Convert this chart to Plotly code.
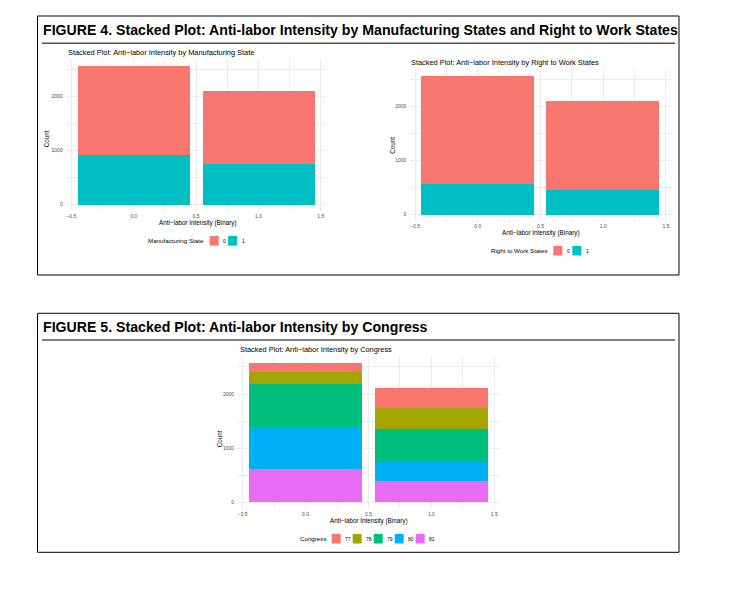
import plotly.graph_objects as go

# ---------------- data ----------------
intensity = [0, 1]                      # Anti-labor Intensity (Binary)
binary_levels = ["0", "1"]
manuf_0 = [1660, 1360]                  # Manufacturing State = 0
manuf_1 = [920, 750]                    # Manufacturing State = 1
rtw_0 = [2015, 1652]                    # Right to Work States = 0
rtw_1 = [565, 458]                      # Right to Work States = 1
congress_levels = ["77", "78", "79", "80", "81"]
cong_77 = [173, 370]
cong_78 = [222, 389]
cong_79 = [796, 611]
cong_80 = [772, 352]
cong_81 = [617, 389]
x_ticks = [-0.5, 0.0, 0.5, 1.0, 1.5]
x_tick_labels = ["\u22120.5", "0.0", "0.5", "1.0", "1.5"]
y_ticks = [0, 1000, 2000]
y_tick_labels = ["0", "1000", "2000"]

# ---------------- style ----------------
PAGE_W, PAGE_H = 742, 593
OFF = 8                      # default body margin of the html page
W, H = PAGE_W - 2 * OFF, PAGE_H - 2 * OFF
FONT = "Liberation Sans, Arial, Helvetica, sans-serif"
C2 = ["#F8766D", "#00BFC4"]
C5 = ["#F8766D", "#A3A500", "#00BF7D", "#00B0F6", "#E76BF3"]
GRID = "#EBEBEB"
TICKC = "#4D4D4D"


def fx(px):
    return (px - OFF) / W


def fy(py):
    return 1 - (py - OFF) / H


fig = go.Figure()
BAR_W = 0.9


def add_bar(xa, ya, name, y, color):
    fig.add_trace(go.Bar(
        x=intensity, y=y, width=BAR_W, name=name,
        marker=dict(color=color, line=dict(width=0)),
        xaxis=xa, yaxis=ya, showlegend=False,
    ))


# subplot 1: manufacturing (level 1 at bottom, level 0 on top)
manuf_series = [manuf_0, manuf_1]
for i in reversed(range(len(binary_levels))):
    add_bar("x", "y", binary_levels[i], manuf_series[i], C2[i])
# subplot 2: right to work
rtw_series = [rtw_0, rtw_1]
for i in reversed(range(len(binary_levels))):
    add_bar("x2", "y2", binary_levels[i], rtw_series[i], C2[i])
# subplot 3: congress (81 at bottom, 77 on top)
cong_series = [cong_77, cong_78, cong_79, cong_80, cong_81]
for i in reversed(range(len(congress_levels))):
    add_bar("x3", "y3", congress_levels[i], cong_series[i], C5[i])

XR = [-0.545, 1.545]
YR = [-129, 2709]


def xaxis(dom, anchor):
    return dict(domain=dom, range=XR, anchor=anchor, tickmode="array",
                tickvals=x_ticks, ticktext=x_tick_labels,
                showgrid=True, gridcolor=GRID, gridwidth=0.8, zeroline=False,
                showline=False, ticks="", ticklabelstandoff=1,
                tickfont=dict(size=5, color=TICKC, family=FONT),
                minor=dict(dtick=0.25, tick0=-0.5, showgrid=True,
                           gridcolor=GRID, gridwidth=0.5),
                fixedrange=True)


def yaxis(dom, anchor):
    return dict(domain=dom, range=YR, anchor=anchor, tickmode="array",
                tickvals=y_ticks, ticktext=y_tick_labels,
                showgrid=True, gridcolor=GRID, gridwidth=0.8, zeroline=False,
                showline=False, ticks="", ticklabelstandoff=2,
                tickfont=dict(size=5, color=TICKC, family=FONT),
                minor=dict(dtick=500, tick0=0, showgrid=True,
                           gridcolor=GRID, gridwidth=0.5),
                fixedrange=True)


# panel pixel extents (page pixels)
P1 = dict(x0=65.7, x1=326.3, y0=58.6, y1=211.2)
P2 = dict(x0=409.4, x1=671.6, y0=68.6, y1=221.2)
P3 = dict(x0=237.0, x1=500.0, y0=355.7, y1=509.0)

fig.update_layout(
    width=W, height=H, margin=dict(l=0, r=0, t=0, b=0),
    paper_bgcolor="white", plot_bgcolor="white",
    barmode="stack", bargap=0, showlegend=False,
    font=dict(family=FONT, color="black"),
    xaxis=xaxis([fx(P1["x0"]), fx(P1["x1"])], "y"),
    yaxis=yaxis([fy(P1["y1"]), fy(P1["y0"])], "x"),
    xaxis2=xaxis([fx(P2["x0"]), fx(P2["x1"])], "y2"),
    yaxis2=yaxis([fy(P2["y1"]), fy(P2["y0"])], "x2"),
    xaxis3=xaxis([fx(P3["x0"]), fx(P3["x1"])], "y3"),
    yaxis3=yaxis([fy(P3["y1"]), fy(P3["y0"])], "x3"),
)

# ---------------- frames and rules ----------------
shapes = []
for (y0, y1, ly) in [(16, 275, 43.3), (313.3, 552.3, 340)]:
    shapes.append(dict(type="rect", xref="paper", yref="paper",
                       x0=fx(37.5), x1=fx(679), y0=fy(y1), y1=fy(y0),
                       line=dict(color="black", width=1), fillcolor="rgba(0,0,0,0)",
                       layer="below"))
    shapes.append(dict(type="line", xref="paper", yref="paper",
                       x0=fx(42), x1=fx(675), y0=fy(ly), y1=fy(ly),
                       line=dict(color="#555555", width=1.5)))

# ---------------- text ----------------
ann = []


def text(s, x, y, size, xanchor="center", bold=False, angle=0, color="black", family=FONT):
    ann.append(dict(text=("<b>%s</b>" % s) if bold else s, x=fx(x), y=fy(y),
                    xref="paper", yref="paper", showarrow=False,
                    xanchor=xanchor, yanchor="middle", textangle=angle,
                    font=dict(size=size, color=color, family=family)))


text("FIGURE 4. Stacked Plot: Anti-labor Intensity by Manufacturing States and Right to Work States",
     40.5, 29.7, 14.15, xanchor="left", bold=True)
text("FIGURE 5. Stacked Plot: Anti-labor Intensity by Congress",
     40.5, 326.9, 14.15, xanchor="left", bold=True)

text("Stacked Plot: Anti\u2212labor Intensity by Manufacturing State", 66, 52.7, 7.4, xanchor="left")
text("Stacked Plot: Anti\u2212labor Intensity by Right to Work States", 409.5, 62.3, 7.4, xanchor="left")
text("Stacked Plot: Anti\u2212labor Intensity by Congress", 238, 349.3, 7.4, xanchor="left")

text("Anti\u2212labor Intensity (Binary)", 198, 223.3, 6.3)
text("Anti\u2212labor Intensity (Binary)", 541, 233.3, 6.3)
text("Anti\u2212labor Intensity (Binary)", 369, 521, 6.3)

text("Count", 47.3, 139, 6.3, angle=-90)
text("Count", 391.7, 145, 6.3, angle=-90)
text("Count", 219.3, 439, 6.3, angle=-90)


# ---------------- legends (keys built from the level lists) ----------------
def legend(title, levels, colors, x_start, y_mid, pitch, sw=9.0):
    text(title, x_start - 3.5, y_mid, 6.2, xanchor="right")
    for k, (lab, col) in enumerate(zip(levels, colors)):
        x0 = x_start + k * pitch
        shapes.append(dict(type="rect", xref="paper", yref="paper",
                           x0=fx(x0), x1=fx(x0 + sw),
                           y0=fy(y_mid + sw / 2 + 0.3), y1=fy(y_mid - sw / 2 - 0.3),
                           line=dict(width=0), fillcolor=col))
        text(lab, x0 + sw + 2.5, y_mid, 5, xanchor="left")


legend("Manufacturing State", binary_levels, C2, 209.7, 240.8, 18.4)
legend("Right to Work States", binary_levels, C2, 553.3, 250.7, 19.0)
legend("Congress", congress_levels, C5, 331.7, 538.7, 21.0)

fig.update_layout(shapes=shapes, annotations=ann)

fig.write_html("out.html", config={"displayModeBar": False})
